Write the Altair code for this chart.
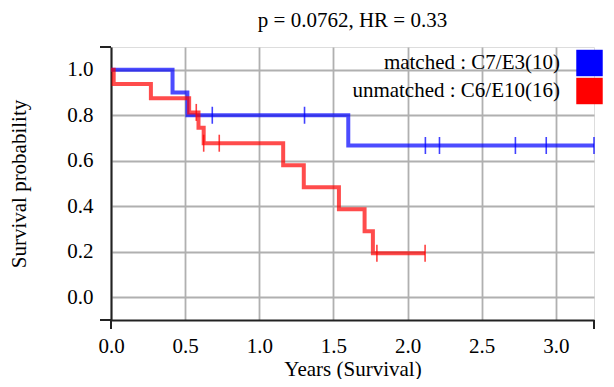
import altair as alt
import pandas as pd

# ---- data ----
groups = ["matched : C7/E3(10)", "unmatched : C6/E10(16)"]
group_colors = ["#0000ff", "#ff0000"]

matched_times = [0.0, 0.415, 0.515, 1.60, 3.257]
matched_surv = [1.0, 0.9, 0.8, 0.667, 0.667]
matched_cens_times = [0.683, 1.305, 2.12, 2.215, 2.727, 2.935, 3.257]
matched_cens_surv = [0.8, 0.8, 0.667, 0.667, 0.667, 0.667, 0.667]

unmatched_times = [0.0, 0.018, 0.269, 0.527, 0.59, 0.625, 1.161, 1.30, 1.537, 1.71, 1.766, 2.118]
unmatched_surv = [1.0, 0.9375, 0.875, 0.8125, 0.7448, 0.6771, 0.5804, 0.4837, 0.3869, 0.2902, 0.1935, 0.1935]
unmatched_cens_times = [0.575, 0.625, 0.73, 1.793, 2.118]
unmatched_cens_surv = [0.8125, 0.6771, 0.6771, 0.1935, 0.1935]

x_ticks = [0.0, 0.5, 1.0, 1.5, 2.0, 2.5, 3.0]
y_ticks = [0.0, 0.2, 0.4, 0.6, 0.8, 1.0]
x_domain = [0.0, 3.257]
y_domain = [-0.1, 1.1]

title_text = "p = 0.0762, HR = 0.33"
x_title = "Years (Survival)"
y_title = "Survival probability"

FONT = "Liberation Serif"
FS = 21
W, H = 483, 273

steps = pd.DataFrame(
    [{"t": t, "s": s, "g": groups[0], "o": i} for i, (t, s) in enumerate(zip(matched_times, matched_surv))]
    + [{"t": t, "s": s, "g": groups[1], "o": i} for i, (t, s) in enumerate(zip(unmatched_times, unmatched_surv))]
)
cens = pd.DataFrame(
    [{"t": t, "s": s, "g": groups[0]} for t, s in zip(matched_cens_times, matched_cens_surv)]
    + [{"t": t, "s": s, "g": groups[1]} for t, s in zip(unmatched_cens_times, unmatched_cens_surv)]
)

xs = alt.Scale(domain=x_domain, nice=False, zero=False)
ys = alt.Scale(domain=y_domain, nice=False, zero=False)
cs = alt.Scale(domain=groups, range=group_colors)

x_axis = alt.Axis(
    values=x_ticks, format=".1f", title=x_title, grid=True, gridColor="#b0b0b0", gridWidth=1.8,
    domain=True, domainColor="#222222", domainWidth=2, ticks=False, labelPadding=15, labelFlush=False,
    labelFont=FONT, labelFontSize=FS, labelColor="black", titleFont=FONT, titleFontSize=FS,
    titleFontWeight="normal", titleColor="black", titlePadding=2,
)
y_axis = alt.Axis(
    values=y_ticks, format=".1f", title=y_title, grid=True, gridColor="#b0b0b0", gridWidth=1.8,
    domain=True, domainColor="#222222", domainWidth=2, ticks=False, labelPadding=18, labelFlush=False,
    labelFont=FONT, labelFontSize=FS, labelColor="black", titleFont=FONT, titleFontSize=FS,
    titleFontWeight="normal", titleColor="black", titlePadding=37,
)

lines = alt.Chart(steps).mark_line(interpolate="step-after", strokeWidth=4, opacity=0.7).encode(
    x=alt.X("t:Q", scale=xs, axis=x_axis),
    y=alt.Y("s:Q", scale=ys, axis=y_axis),
    color=alt.Color("g:N", scale=cs, legend=None),
    order="o:Q",
    detail="g:N",
)

ticks = alt.Chart(cens).mark_tick(orient="vertical", size=17, thickness=1.6, opacity=0.75).encode(
    x=alt.X("t:Q", scale=xs),
    y=alt.Y("s:Q", scale=ys),
    color=alt.Color("g:N", scale=cs, legend=None),
)

# axis end caps (R-style outer ticks)
cap_rules = [
    alt.Chart().mark_rule(color="#222222", strokeWidth=2).encode(x=alt.value(-11), x2=alt.value(0), y=alt.value(0)),
    alt.Chart().mark_rule(color="#222222", strokeWidth=2).encode(x=alt.value(-11), x2=alt.value(0), y=alt.value(H)),
    alt.Chart().mark_rule(color="#222222", strokeWidth=2).encode(x=alt.value(0), y=alt.value(H), y2=alt.value(H + 9)),
    alt.Chart().mark_rule(color="#222222", strokeWidth=2).encode(x=alt.value(W), y=alt.value(H), y2=alt.value(H + 9)),
]

# chart title drawn as text above the plot
title_layer = alt.Chart(pd.DataFrame({"t": [title_text]})).mark_text(
    align="center", baseline="alphabetic", font=FONT, fontSize=FS, color="black"
).encode(text="t:N", x=alt.value(W / 2), y=alt.value(-20))

# legend: label to the left of a coloured square
legend_layers = []
for i, (g, c) in enumerate(zip(groups, group_colors)):
    ld = pd.DataFrame({"g": [g]})
    legend_layers.append(
        alt.Chart(ld).mark_text(align="right", baseline="alphabetic", font=FONT, fontSize=FS, color="black").encode(
            text="g:N", x=alt.value(449), y=alt.value(22 + 28 * i)
        )
    )
    legend_layers.append(
        alt.Chart(ld).mark_square(size=700, color=c, opacity=1).encode(
            x=alt.value(478.5), y=alt.value(16 + 28 * i)
        )
    )

chart = alt.layer(lines, ticks, *cap_rules, title_layer, *legend_layers).properties(
    width=W,
    height=H,
    autosize=alt.AutoSizeParams(type="none"),
    padding={"left": 103, "top": 39, "right": 12, "bottom": 59},
).configure_view(stroke=None).configure(background="white")

chart.save("out.html", embed_options={"renderer": "svg", "actions": False})
